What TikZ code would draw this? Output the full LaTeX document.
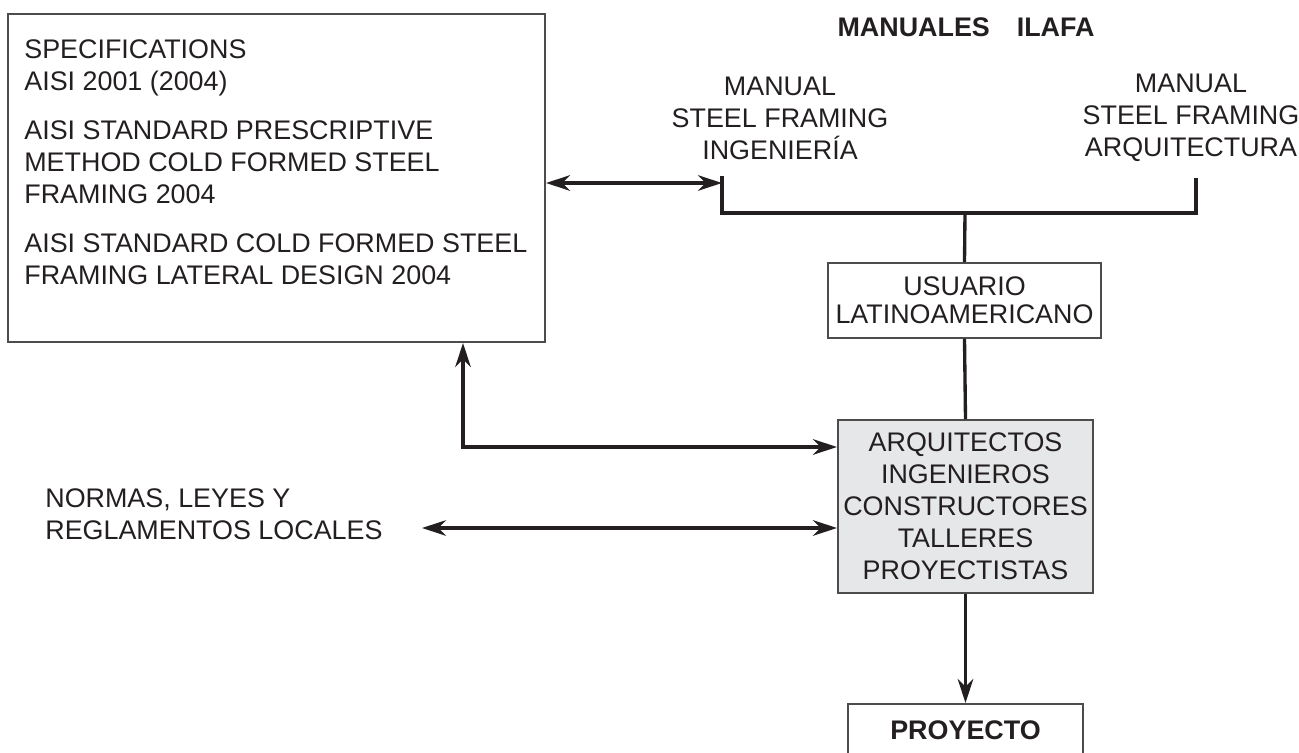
\documentclass[tikz,border=0pt]{standalone}
\usepackage{fontspec}
\setmainfont{Liberation Sans}
\usetikzlibrary{calc, arrows.meta}

\definecolor{ink}{HTML}{231F20}
\definecolor{boxgray}{HTML}{E6E7E8}

\begin{document}
\begin{tikzpicture}[x=0.2mm, y=-0.2mm,
    every node/.style={font=\fontsize{15.3pt}{18.2pt}\selectfont, text=ink, inner sep=0},
    box/.style={draw=black!70, line width=1.1pt, align=center},
    wire/.style={draw=ink, line width=1.9pt},
    dbl/.style={wire, {Stealth[length=4.8mm, width=3.1mm, inset=1.5mm]}-{Stealth[length=4.8mm, width=3.1mm, inset=1.5mm]}},
    arr/.style={wire, -{Stealth[length=4.8mm, width=3.1mm, inset=1.5mm]}}]

  \clip (0,0) rectangle (1299,753);

  \node [box, minimum width=107.4mm, minimum height=65.6mm] (spec) at (276.5,178) {}; % specifications box
  \node [anchor=north west, align=left] (spectext) at (24,39)
    {SPECIFICATIONS\\AISI 2001 (2004)\\[3.4mm]
     AISI STANDARD PRESCRIPTIVE\\METHOD COLD FORMED STEEL\\FRAMING 2004\\[3.5mm]
     AISI STANDARD COLD FORMED STEEL\\FRAMING LATERAL DESIGN 2004};

  \node [font=\fontsize{15.3pt}{18.2pt}\selectfont\bfseries] (ilafa) at (966,27) {MANUALES\quad ILAFA};
  \node [align=center] (man1) at (780,118) {MANUAL\\STEEL FRAMING\\INGENIERÍA};
  \node [align=center] (man2) at (1191,118) {MANUAL\\STEEL FRAMING\\ARQUITECTURA};

  \node [box, minimum width=54.6mm, minimum height=15mm,
         font=\fontsize{15.3pt}{16pt}\selectfont] (usu) at (964.5,300.5) {USUARIO\\LATINOAMERICANO};
  \node [box, fill=boxgray, minimum width=51mm, minimum height=34.6mm] (team) at (965.5,506.5)
    {ARQUITECTOS\\INGENIEROS\\CONSTRUCTORES\\TALLERES\\PROYECTISTAS};
  \node [box, minimum width=47mm, minimum height=10.4mm,
         font=\fontsize{15.3pt}{18.2pt}\selectfont\bfseries] (proy) at (965.5,730) {PROYECTO};

  \node [anchor=west, align=left] (normas) at (45,514) {NORMAS, LEYES Y\\REGLAMENTOS LOCALES};

  \coordinate (b1) at (722,176); % left leg of bracket
  \coordinate (b2) at (1196,178); % right leg
  \coordinate (jn) at (965,213);  % bracket joint
  \coordinate (a1) at (722,183);  % arrow end at bracket
  \coordinate (crn) at (463,447); % corner of return arrow
  \coordinate (nl) at (422,528);  % left tip of normas arrow

  \draw [wire] (b1) -- (b1 |- jn) -- (b2 |- jn) -- (b2);
  \draw [wire] (jn) -- (usu.north);
  \draw [wire] (usu.south) -- (team.north);
  \draw [dbl] (spec.east |- a1) -- (a1);
  \draw [dbl] (spec.south -| crn) |- (team.west |- crn);
  \draw [dbl] (nl) -- (team.west |- nl);
  \draw [arr] (team.south) -- (proy.north);
\end{tikzpicture}
\end{document}
